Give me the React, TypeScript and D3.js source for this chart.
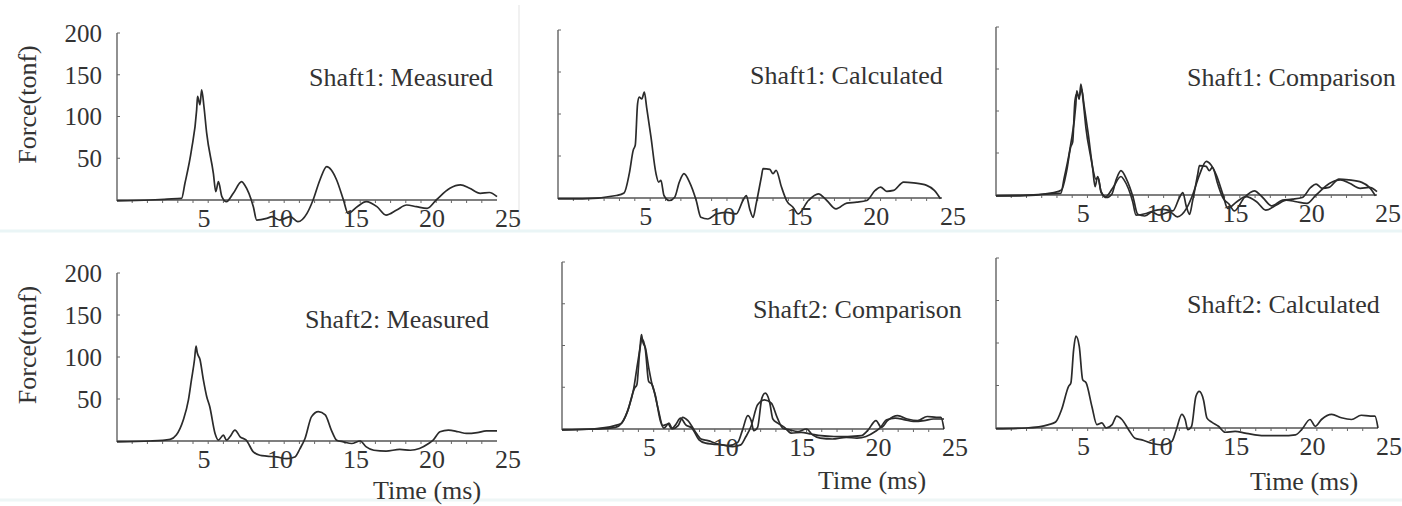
import React from 'react';
import * as d3 from 'd3';

// force (tonf) against time (ms)
const shaft1Measured: [number, number][] = [
  [0, -1], [2.2, 0], [3.3, 1], [4.25, 2], [4.47, 20], [4.9, 60], [5.24, 108], [5.3, 124],
  [5.46, 114], [5.57, 132], [5.72, 112], [5.9, 80], [6.34, 32], [6.5, 10], [6.67, 22],
  [6.9, 4], [7.2, -2], [7.65, 8], [8.2, 22], [8.4, 18], [8.97, -8], [9.19, -24], [9.85, -22],
  [10.2, -20], [10.7, -24], [11.4, -20], [11.9, -26], [12.5, -16], [12.9, 0], [13.35, 24],
  [13.8, 40], [14.1, 36], [14.45, 24], [14.9, 0], [15.2, -16], [15.8, -8], [16.4, -2],
  [17.1, -8], [17.7, -18], [18.4, -12], [19.05, -6], [19.7, -8], [20.4, -10], [21.0, 0],
  [21.9, 14], [22.6, 18], [23.2, 14], [23.9, 8], [24.5, 9], [25, 4],
];

const shaft1Calculated: [number, number][] = [
  [0, -1], [1.6, -1], [3.8, 3], [4.3, 6], [4.64, 29], [4.9, 57], [5.03, 63], [5.18, 112],
  [5.29, 120], [5.46, 118], [5.62, 126], [5.77, 108], [6.05, 73], [6.38, 29], [6.55, 19],
  [6.7, 21], [6.9, 3], [7.25, -3], [7.6, 1], [7.9, 19], [8.2, 29], [8.56, 19], [9.0, -3],
  [9.3, -23], [9.76, -25], [10.3, -19], [10.95, -17], [11.6, -19], [12.04, -3], [12.26, 3],
  [12.48, -13], [12.7, -23], [12.9, -7], [13.24, 25], [13.35, 35], [13.79, 34], [14.0, 29],
  [14.2, 33], [14.55, 13], [14.88, -3], [15.3, -11], [15.64, -19], [16.3, -3], [16.95, 5],
  [17.5, -3], [18.1, -13], [18.8, -6], [19.45, -5], [20.1, -3], [20.65, 9], [21.0, 13],
  [21.4, 8], [21.85, 9], [22.5, 19], [23.15, 18], [24.0, 15], [24.5, 9], [24.9, -1],
];

const shaft2Measured: [number, number][] = [
  [0, -1], [2.2, 0], [3.5, 2], [3.9, 7], [4.36, 25], [4.7, 49], [4.9, 73], [5.1, 97],
  [5.2, 113], [5.28, 105], [5.46, 97], [5.68, 73], [5.9, 53], [6.1, 41], [6.45, 9],
  [6.67, 1], [7.0, 7], [7.2, 1], [7.43, 5], [7.76, 13], [8.1, 5], [8.5, 1], [8.97, -13],
  [9.4, -17], [9.85, -18], [10.5, -19], [11.16, -21], [11.7, -19], [12.04, -9], [12.37, 3],
  [12.8, 29], [13.25, 35], [13.7, 31], [14.1, 13], [14.45, 1], [14.9, -1], [15.44, -3],
  [16.0, 0], [16.4, -7], [16.9, -11], [17.7, -12], [18.6, -10], [19.3, -11], [19.9, -9],
  [20.5, -3], [20.8, 1], [21.25, 11], [21.8, 13], [22.45, 11], [23.0, 9], [23.7, 10],
  [24.3, 12], [25, 12],
];

const shaft2Calculated: [number, number][] = [
  [0, -1], [2, 0], [3.45, 4], [3.9, 7], [4.3, 22], [4.75, 49], [4.9, 53], [5.08, 92],
  [5.23, 108], [5.45, 96], [5.67, 57], [5.9, 53], [6.28, 25], [6.6, 4], [6.93, 6], [7.2, 0],
  [7.6, 4], [7.9, 14], [8.24, 10], [8.68, -2], [9.1, -12], [9.55, -14], [10.2, -18],
  [10.85, -20], [11.5, -16], [11.8, -2], [12.16, 16], [12.38, 10], [12.55, -2], [12.8, 2],
  [13.08, 37], [13.3, 43], [13.58, 33], [13.8, 12], [14.12, 7], [14.56, 2], [15.0, -5],
  [15.65, -4], [16.3, -6], [16.95, -8], [17.8, -9], [18.7, -9], [19.6, -8], [20.0, -2],
  [20.55, 10], [20.9, 2], [21.3, 10], [21.97, 16], [22.6, 12], [23.27, 10], [23.9, 15],
  [24.5, 14], [24.8, 14], [25, 0],
];

const xTickLabels = [5, 10, 15, 20, 25];
const yTickLabels = [50, 100, 150, 200];
const minorTicks = d3.range(1, 25);

const panels = [
  { title: 'Shaft1: Measured', series: [shaft1Measured], x0: 117, x1: 497, base: 200, top: 33, tx: 309, ty: 86, yLabels: true, time: null },
  { title: 'Shaft1: Calculated', series: [shaft1Calculated], x0: 558, x1: 942, base: 198, top: 30, tx: 750, ty: 84, yLabels: false, time: null },
  { title: 'Shaft1: Comparison', series: [shaft1Measured, shaft1Calculated], x0: 996, x1: 1377, base: 195, top: 27, tx: 1187, ty: 86, yLabels: false, time: null },
  { title: 'Shaft2: Measured', series: [shaft2Measured], x0: 117, x1: 497, base: 441, top: 273, tx: 305, ty: 328, yLabels: true, time: [427, 499] },
  { title: 'Shaft2: Comparison', series: [shaft2Measured, shaft2Calculated], x0: 562, x1: 944, base: 429, top: 262, tx: 753, ty: 318, yLabels: false, time: [872, 489] },
  { title: 'Shaft2: Calculated', series: [shaft2Calculated], x0: 996, x1: 1378, base: 428, top: 258, tx: 1187, ty: 313, yLabels: false, time: [1304, 490] },
];

const font = '"Liberation Serif", "Times New Roman", serif';
const ink = '#2b2b2b';

const Panel = ({ p }: { p: (typeof panels)[number] }) => {
  const x = d3.scaleLinear().domain([0, 25]).range([p.x0, p.x1]);
  const y = d3.scaleLinear().domain([0, 200]).range([p.base, p.top]);
  const line = d3
    .line<[number, number]>()
    .x((d) => x(d[0]))
    .y((d) => y(d[1]))
    .curve(d3.curveMonotoneX);

  return (
    <g>
      {/* axes */}
      <line x1={x(0)} x2={x(0)} y1={y(0) + 1} y2={y(200)} stroke="#555" strokeWidth={1.3} />
      <line x1={x(0)} x2={x(25)} y1={y(0)} y2={y(0)} stroke="#555" strokeWidth={1.3} />
      {minorTicks.map((t) => (
        <line key={t} x1={x(t)} x2={x(t)} y1={y(0)} y2={y(0) + 3} stroke="#666" strokeWidth={1} />
      ))}
      {yTickLabels.map((v) => (
        <line key={v} x1={x(0)} x2={x(0) + 3} y1={y(v)} y2={y(v)} stroke="#666" strokeWidth={1} />
      ))}
      {p.yLabels &&
        yTickLabels.map((v) => (
          <text key={v} x={x(0) - 15} y={y(v)} dy="0.35em" textAnchor="end" fontSize={25} fill="#333" fontFamily={font}>
            {v}
          </text>
        ))}
      {p.yLabels && (
        <text
          transform={`translate(36,${(p.base + p.top) / 2 - 12}) rotate(-90)`}
          textAnchor="middle"
          fontSize={26}
          fill="#333"
          fontFamily={font}
        >
          Force(tonf)
        </text>
      )}

      {/* curves */}
      {p.series.map((s, i) => (
        <path key={i} d={line(s) ?? ''} fill="none" stroke={ink} strokeWidth={1.7} strokeLinejoin="round" />
      ))}

      {xTickLabels.map((t) => (
        <text key={t} x={x(t) + 11} y={y(0) + 27} textAnchor="middle" fontSize={26} fill="#333" fontFamily={font}>
          {t}
        </text>
      ))}
      <text x={p.tx} y={p.ty} fontSize={26} fill="#333" fontFamily={font}>
        {p.title}
      </text>
      {p.time && (
        <text x={p.time[0]} y={p.time[1]} textAnchor="middle" fontSize={26} fill="#333" fontFamily={font}>
          Time (ms)
        </text>
      )}
    </g>
  );
};

export default function App() {
  return (
    <div style={{ position: 'absolute', left: 0, top: 0 }}>
      <svg width={1402} height={506} style={{ display: 'block', background: '#fff' }}>
        <line x1={0} x2={1402} y1={231} y2={231} stroke="#eaf5f6" strokeWidth={3} />
        <line x1={0} x2={1402} y1={500} y2={500} stroke="#eef6f6" strokeWidth={3} />
        <line x1={519} x2={519} y1={5} y2={230} stroke="#ececec" strokeWidth={1.5} />
        {panels.map((p) => (
          <Panel key={p.title} p={p} />
        ))}
      </svg>
    </div>
  );
}
